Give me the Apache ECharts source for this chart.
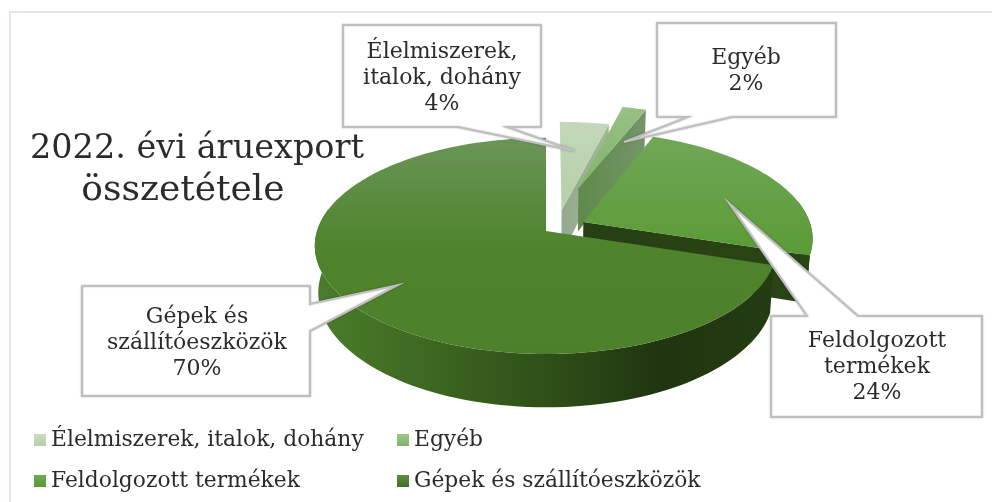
<!DOCTYPE html>
<html>
<head>
<meta charset="utf-8">
<style>
  html, body { margin: 0; padding: 0; background: #fff; }
  #frame { position: absolute; left: 9px; top: 11px; width: 983px; height: 491px;
           border-left: 2px solid #e1e6f0; border-top: 2px solid #e1e6f0; box-sizing: border-box; }
  #chart { position: absolute; left: 0; top: 0; width: 992px; height: 502px; }
</style>
<script src="https://cdn.jsdelivr.net/npm/echarts@6/dist/echarts.min.js"></script>
</head>
<body>
<div id="frame"></div>
<div id="chart"></div>
<script>
// adatok
const titleLines = ['2022. évi áruexport', 'összetétele']
const categories = ['Élelmiszerek, italok, dohány', 'Egyéb', 'Feldolgozott termékek', 'Gépek és szállítóeszközök']
const calloutNames = ['Élelmiszerek,\nitalok, dohány', 'Egyéb', 'Feldolgozott\ntermékek', 'Gépek és\nszállítóeszközök']
const shares = [4, 2, 24, 70]

const FONT = '"DejaVu Serif"'
const INK = '#2b2b2b'

// a 3D korong vetítése
const CX = 546, CY = 231, R = 229, K = 106, P = 0.138, DEPTH = 46
const project = (u, v, drop) => {
  const s = 1 / (1 - P * v)
  return [CX + R * u * s * (1 - 0.015 * drop), CY + K * v * s + DEPTH * s * drop]
}

// szeletenkénti eltolás és színek
const offsets = [[0.07, -0.2], [0.15, -0.428], [0.165, -0.085], [0, 0]]
const grad = (x2, y2, stops) => new echarts.graphic.LinearGradient(0, 0, x2, y2,
  stops.map((c, i) => ({ offset: i / (stops.length - 1), color: c })))
const topFills = [
  ['#c3d8b9', '#b4cfa6'],
  ['#98c084', '#82b46a'],
  ['#70a757', '#5a9a36'],
  ['#6a9658', '#4f832c', '#4c802a']
]
const rimFills = [
  ['#9aaf92', '#9aaf92'],
  ['#6c9355', '#6c9355'],
  ['#26411a', '#274210'],
  ['#4a7d2b', '#3d6720', '#2f5018', '#1f3510', '#243c11']
]
const sideFills = [
  ['#94aa8b', '#a4b59c'],
  ['#5f8a4a', '#74956a'],
  ['#263f13', '#2a4515'],
  ['#243c11', '#243c11']
]
const legendFills = [
  ['#cadcc2', '#b4cfa6'],
  ['#a0c68e', '#82b46a'],
  ['#70a757', '#5a9a36'],
  ['#5f8e48', '#3f7020']
]

const total = shares.reduce((a, b) => a + b, 0)
const starts = shares.map((_, i) => shares.slice(0, i).reduce((a, b) => a + b, 0) / total * 360)

const renderSlice = (params) => {
  const i = params.seriesIndex
  const a0 = starts[i], a1 = a0 + shares[i] / total * 360
  const [ou, ov] = offsets[i]
  const rimPoint = (deg, drop) => {
    const rad = deg * Math.PI / 180
    return project(ou + Math.sin(rad), ov - Math.cos(rad), drop)
  }
  const sample = (from, to, drop) => {
    const out = []
    const n = Math.max(2, Math.ceil((to - from) / 2))
    for (let k = 0; k <= n; k++) out.push(rimPoint(from + (to - from) * k / n, drop))
    return out
  }
  const children = []
  // palást
  const r0 = Math.max(a0, 78), r1 = Math.min(a1, 282)
  if (r1 > r0) {
    children.push({
      type: 'polygon',
      shape: { points: sample(r0, r1, 0).concat(sample(r0, r1, 1).reverse()) },
      style: { fill: grad(1, 0, rimFills[i]) }
    })
  }
  // vágott oldal
  if (a1 < 180) {
    children.push({
      type: 'polygon',
      shape: { points: [project(ou, ov, 0), rimPoint(a1, 0), rimPoint(a1, 1), project(ou, ov, 1)] },
      style: { fill: grad(1, 0, sideFills[i]) }
    })
  }
  // felső lap
  children.push({
    type: 'polygon',
    shape: { points: [project(ou, ov, 0)].concat(sample(a0, a1, 0)) },
    style: { fill: grad(0, 1, topFills[i]) }
  })
  return { type: 'group', children }
}

// feliratdobozok: keret töréspontjai és szövegközép
const callouts = [
  { text: [442, 78], pts: [[343, 25], [541, 25], [541, 127], [507, 127], [575, 151], [458, 127], [343, 127]] },
  { text: [746, 71], pts: [[657, 23], [836, 23], [836, 117], [732, 117], [624, 142], [688, 117], [657, 117]] },
  { text: [877, 367], pts: [[771, 316], [807, 316], [729, 203], [858, 316], [982, 316], [982, 417], [771, 417]] },
  { text: [197, 343], pts: [[82, 286], [310, 286], [310, 304], [398, 285], [310, 331], [310, 396], [82, 396]] }
]
const calloutGraphics = []
callouts.forEach((c, i) => {
  calloutGraphics.push({
    type: 'polygon', z: 20,
    shape: { points: c.pts },
    style: { fill: '#fff', stroke: '#bfbfbf', lineWidth: 2, lineJoin: 'miter', shadowBlur: 2, shadowColor: 'rgba(0,0,0,0.25)' }
  })
  calloutGraphics.push({
    type: 'text', z: 21, x: c.text[0], y: c.text[1],
    style: {
      text: calloutNames[i] + '\n' + shares[i] + '%',
      fill: INK, font: '22px ' + FONT, align: 'center', verticalAlign: 'middle', lineHeight: 26
    }
  })
})

const titleSpots = [[192, 127], [178, 168]]
const titleSizes = [33.5, 36]
const legendSpots = [[29, 424], [392, 424], [29, 465], [392, 465]]

const chart = echarts.init(document.getElementById('chart'))
chart.setOption({
  animation: false,
  title: titleLines.map((text, i) => ({
    text, left: titleSpots[i][0], top: titleSpots[i][1], textAlign: 'center',
    textStyle: { fontFamily: FONT, fontSize: titleSizes[i], fontWeight: 'normal', color: INK }
  })),
  legend: categories.map((name, i) => ({
    left: legendSpots[i][0], top: legendSpots[i][1],
    selectedMode: false, icon: 'rect', itemWidth: 12, itemHeight: 12, itemGap: 5,
    textStyle: { fontFamily: FONT, fontSize: 21.8, color: INK },
    data: [{ name, itemStyle: { color: grad(0, 1, legendFills[i]) } }]
  })),
  graphic: calloutGraphics,
  series: categories.map((name, i) => ({
    name,
    type: 'custom',
    coordinateSystem: 'none',
    renderItem: renderSlice,
    silent: true,
    itemStyle: { color: legendFills[i][1] },
    data: [[shares[i]]]
  }))
})

window.addEventListener('resize', () => chart.resize())
</script>
</body>
</html>
